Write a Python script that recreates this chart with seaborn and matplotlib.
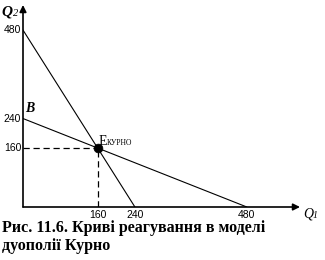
import matplotlib
matplotlib.use("Agg")
import matplotlib.pyplot as plt
import seaborn as sns
import pandas as pd

sns.set_theme(style="white")
plt.rcParams['font.family'] = ['DejaVu Sans']
plt.rcParams['text.color'] = 'black'

# Reaction curves (Q1, Q2 endpoints)
curve1_q1 = [0, 240]
curve1_q2 = [480, 0]
curveB_q1 = [0, 480]
curveB_q2 = [240, 0]
eq_q1 = [160]
eq_q2 = [160]
xtick_vals = [160, 240, 480]
ytick_vals = [160, 240, 480]

fig = plt.figure(figsize=(3.25, 2.6), dpi=100)
ax = fig.add_axes([23/325, 53/260, 277/325, 202/260])
xmax, ymax = 594, 548
ax.set_xlim(0, xmax)
ax.set_ylim(0, ymax)

df1 = pd.DataFrame({"Q1": curve1_q1, "Q2": curve1_q2})
dfB = pd.DataFrame({"Q1": curveB_q1, "Q2": curveB_q2})
sns.lineplot(data=df1, x="Q1", y="Q2", ax=ax, color="black", lw=0.8)
sns.lineplot(data=dfB, x="Q1", y="Q2", ax=ax, color="black", lw=0.8)

# dashed guides
ax.plot([0, eq_q1[0]], [eq_q2[0], eq_q2[0]], color="black", lw=0.9, ls=(0, (5, 3)))
ax.plot([eq_q1[0], eq_q1[0]], [0, eq_q2[0]], color="black", lw=0.9, ls=(0, (5, 3)))
sns.scatterplot(x=eq_q1, y=eq_q2, ax=ax, color="black", s=40, zorder=5, edgecolor="black")

for s in ax.spines.values():
    s.set_visible(False)
ax.set_xticks([]); ax.set_yticks([])
ax.set_xlabel(""); ax.set_ylabel("")

# axes arrows
ax.annotate("", xy=(1.0, 0), xytext=(0, 0), xycoords="axes fraction",
            arrowprops=dict(arrowstyle="-|>", color="black", lw=1.2, mutation_scale=10,
                            shrinkA=0, shrinkB=0), annotation_clip=False)
ax.annotate("", xy=(0, 1.0), xytext=(0, 0), xycoords="axes fraction",
            arrowprops=dict(arrowstyle="-|>", color="black", lw=1.2, mutation_scale=10,
                            shrinkA=0, shrinkB=0), annotation_clip=False)

# tick labels
for v in xtick_vals:
    ax.text(v, -8, str(v), ha="center", va="top", fontsize=7.5, family="Liberation Sans")
for v in ytick_vals:
    ax.text(-4, v, str(v), ha="right", va="center", fontsize=7.5, family="Liberation Sans")

fig.text(1/325, 1 - 12/260, "Q", fontsize=11, family="Liberation Serif", style="italic",
         weight="bold", va="center", ha="left")
fig.text(13/325, 1 - 14/260, "2", fontsize=7.5, family="Liberation Serif", style="italic",
         va="center", ha="left")
fig.text(303/325, 1 - 214/260, "Q", fontsize=10, family="Liberation Serif", style="italic",
         va="center", ha="left")
fig.text(313/325, 1 - 216/260, "1", fontsize=7, family="Liberation Serif", style="italic",
         va="center", ha="left")

ax.text(4, 250, "B", fontsize=10, family="Liberation Serif", style="italic", weight="bold",
        ha="left", va="bottom")
ax.text(163, 160, "Е", fontsize=10, family="Liberation Serif", ha="left", va="bottom")
ax.text(180, 162, "КУРНО", fontsize=5.5, family="Liberation Serif", ha="left", va="bottom")

fig.text(2/325, 1 - 228/260, "Рис. 11.6. Криві реагування в моделі",
         fontsize=11.5, family="Liberation Serif", weight="bold", ha="left", va="center")
fig.text(2/325, 1 - 246/260, "дуополії Курно",
         fontsize=11.5, family="Liberation Serif", weight="bold", ha="left", va="center")

fig.savefig("out.png", dpi=100)
